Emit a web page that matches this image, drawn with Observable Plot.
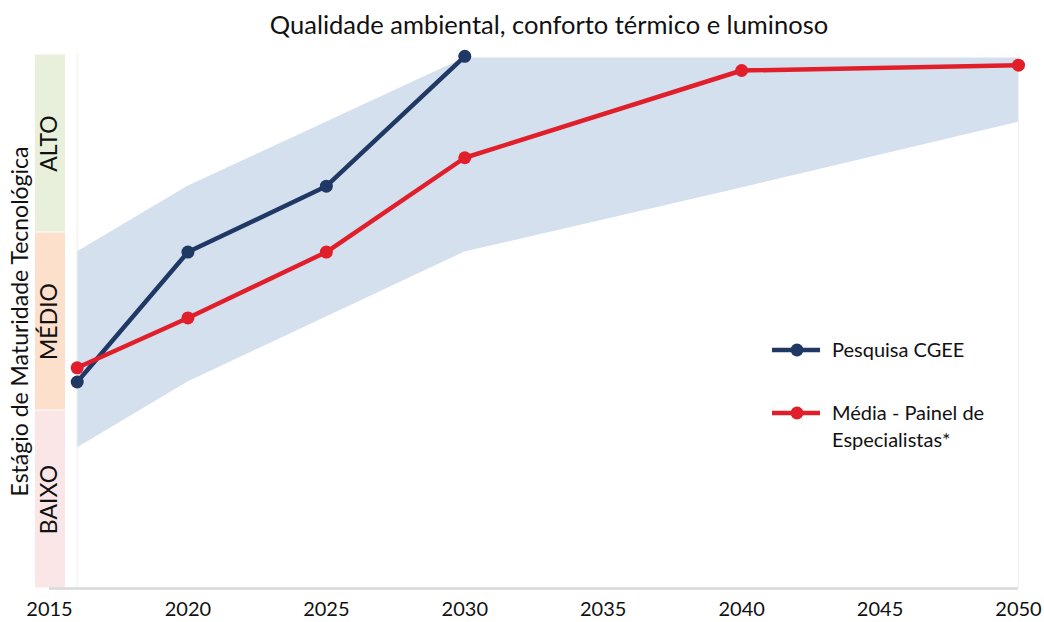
<!DOCTYPE html>
<html>
<head>
<meta charset="utf-8">
<script src="https://cdn.jsdelivr.net/npm/d3@7"></script>
<script src="https://cdn.jsdelivr.net/npm/@observablehq/plot@0.6"></script>
<style>
  body { margin: 0; background: #fff; font-family: Lato, "Open Sans", sans-serif; }
  #wrap { position: relative; width: 1044px; height: 622px; overflow: hidden; }
  #title { height: 36px; padding-top: 6px; line-height: 36px; font-size: 25.5px; text-align: center; padding-left: 54px; color: #111; }
  #legend { position: absolute; left: 770px; top: 336px; font-size: 20px; color: #111; }
  .item { display: flex; align-items: flex-start; }
  .item svg { flex: none; margin-right: 10px; }
  .lab { line-height: 27px; }
</style>
</head>
<body>
<div id="wrap">
  <div id="title">Qualidade ambiental, conforto térmico e luminoso</div>
  <div id="chart"></div>
  <div id="legend"></div>
</div>
<script>
const xTicks = [2015, 2020, 2025, 2030, 2035, 2040, 2045, 2050];

const pesquisaYears = [2016, 2020, 2025, 2030];
const pesquisa = [1.16, 1.89, 2.26, 2.99];

const mediaYears = [2016, 2020, 2025, 2030, 2040, 2050];
const media = [1.24, 1.52, 1.89, 2.42, 2.91, 2.94];

const bandYears = [2016, 2020, 2030, 2040, 2050];
const bandLow = [0.79, 1.16, 1.89, 2.25, 2.62];
const bandHigh = [1.89, 2.26, 2.98, 2.98, 2.98];

const levels = ["BAIXO", "MÉDIO", "ALTO"];
const levelLow = [0, 1, 2];
const levelHigh = [1, 2, 3];
const levelColors = ["#fbe6e7", "#fde0cb", "#e8f0dc"];

const seriesNames = ["Pesquisa CGEE", "Média - Painel de Especialistas*"];
const seriesColors = ["#1f3864", "#e01f2b"];

const pesquisaData = pesquisaYears.map((x, i) => ({x, y: pesquisa[i]}));
const mediaData = mediaYears.map((x, i) => ({x, y: media[i]}));
const bandData = bandYears.map((x, i) => ({x, lo: bandLow[i], hi: bandHigh[i]}));
const levelData = levels.map((name, i) => ({name, lo: levelLow[i], hi: levelHigh[i], color: levelColors[i]}));

const chart = Plot.plot({
  width: 1044,
  height: 580,
  marginTop: 12,
  marginBottom: 34,
  marginLeft: 49,
  marginRight: 26,
  style: {fontFamily: "Lato, 'Open Sans', sans-serif", fontSize: "20px", color: "#111", background: "white", overflow: "visible"},
  x: {domain: [2015, 2050], ticks: xTicks, tickFormat: d => String(d), tickSize: 0, tickPadding: 13, label: null},
  y: {domain: [0, 3], axis: null},
  marks: [
    Plot.rectY(levelData, {x1: () => 2015, x2: () => 2015, y1: "lo", y2: "hi", fill: "color", insetLeft: -14, insetRight: -16, insetTop: 0.5, insetBottom: 0.5}),
    Plot.text(levelData, {x: () => 2015, y: d => (d.lo + d.hi) / 2, text: "name", rotate: -90, fontSize: 23, fill: "#111"}),
    Plot.text(["Estágio de Maturidade Tecnológica"], {frameAnchor: "left", textAnchor: "middle", dx: -29, rotate: -90, fontSize: 23, fill: "#111"}),
    Plot.areaY(bandData, {x: "x", y1: "lo", y2: "hi", fill: "#d5e0ef"}),
    Plot.ruleX([2016, 2050], {stroke: "#eeeeee", strokeWidth: 1}),
    Plot.ruleY([0], {stroke: "#d9d9d9", strokeWidth: 2.5}),
    Plot.line(pesquisaData, {x: "x", y: "y", stroke: seriesColors[0], strokeWidth: 4.5}),
    Plot.dot(pesquisaData, {x: "x", y: "y", fill: seriesColors[0], r: 6.5}),
    Plot.line(mediaData, {x: "x", y: "y", stroke: seriesColors[1], strokeWidth: 4.5}),
    Plot.dot(mediaData, {x: "x", y: "y", fill: seriesColors[1], r: 6.5})
  ]
});
document.getElementById("chart").appendChild(chart);

const legend = document.getElementById("legend");
seriesNames.forEach((name, i) => {
  const item = document.createElement("div");
  item.className = "item";
  item.style.marginBottom = i === 0 ? "36px" : "0";
  const parts = name === "Média - Painel de Especialistas*" ? ["Média - Painel de", "Especialistas*"] : [name];
  item.innerHTML = `<svg width="52" height="27"><line x1="2" y1="14" x2="50" y2="14" stroke="${seriesColors[i]}" stroke-width="4.5"/><circle cx="27" cy="14" r="6.5" fill="${seriesColors[i]}"/></svg><div class="lab">${parts.join("<br>")}</div>`;
  legend.appendChild(item);
});
</script>
</body>
</html>
